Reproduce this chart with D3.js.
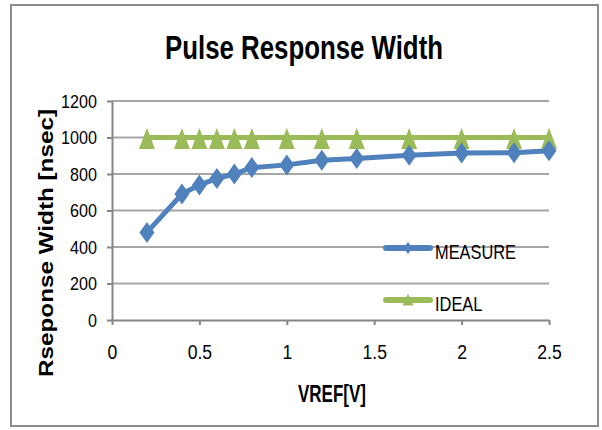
<!DOCTYPE html>
<html>
<head>
<meta charset="utf-8">
<script src="https://cdn.jsdelivr.net/npm/d3@7"></script>
<style>
  body { margin: 0; background: #fff; }
  svg { display: block; font-family: "Liberation Sans", Arial, sans-serif; }
</style>
</head>
<body>
<div id="chart"></div>
<script>
// data
const vref    = [0.2, 0.4, 0.5, 0.6, 0.7, 0.8, 1.0, 1.2, 1.4, 1.7, 2.0, 2.3, 2.5];
const measure = [480, 690, 740, 775, 800, 835, 850, 875, 885, 903, 915, 917, 928];
const ideal   = [1000, 1000, 1000, 1000, 1000, 1000, 1000, 1000, 1000, 1000, 1000, 1000, 1000];
const xTicks  = [0, 0.5, 1, 1.5, 2, 2.5];
const yTicks  = [0, 200, 400, 600, 800, 1000, 1200];
const seriesNames = ["MEASURE", "IDEAL"];

const width = 602, height = 430;
const margin = { top: 101, right: 53, bottom: 110, left: 112 };

const BLUE  = "#4f81bd";
const GREEN = "#9bbb59";
const GRID  = "#a6a6a6";
const AXIS  = "#868686";

// squeeze text horizontally so it looks like a narrow face
function condense(sel, factor) {
  sel.each(function () {
    const w = this.getComputedTextLength();
    d3.select(this)
      .attr("textLength", w * factor)
      .attr("lengthAdjust", "spacingAndGlyphs");
  });
}

const svg = d3.select("#chart").append("svg")
  .attr("width", width)
  .attr("height", height);

// outer frame
svg.append("rect")
  .attr("x", 11).attr("y", 5)
  .attr("width", 587).attr("height", 421)
  .attr("fill", "#fff")
  .attr("stroke", "#8c8c8c")
  .attr("stroke-width", 2);

const x = d3.scaleLinear([0, 2.5], [margin.left, width - margin.right]);
const y = d3.scaleLinear([0, 1200], [height - margin.bottom, margin.top]);

/* grid */
svg.append("g")
  .selectAll("line")
  .data(yTicks.filter(d => d > 0))
  .join("line")
    .attr("x1", x(0)).attr("x2", x(2.5))
    .attr("y1", d => y(d)).attr("y2", d => y(d))
    .attr("stroke", GRID)
    .attr("stroke-width", 2);

/* axes */
const yAxis = svg.append("g")
  .attr("transform", `translate(${margin.left},0)`)
  .call(d3.axisLeft(y).tickValues(yTicks).tickFormat(d3.format("d"))
    .tickSize(5).tickPadding(10).tickSizeOuter(0));

const xAxis = svg.append("g")
  .attr("transform", `translate(0,${y(0)})`)
  .call(d3.axisBottom(x).tickValues(xTicks).tickFormat(d3.format(""))
    .tickSize(5).tickPadding(20).tickSizeOuter(0));

[yAxis, xAxis].forEach(ax => {
  ax.attr("font-family", null);
  ax.select(".domain").attr("stroke", AXIS).attr("stroke-width", 2);
  ax.selectAll(".tick line").attr("stroke", AXIS).attr("stroke-width", 2);
});
yAxis.selectAll(".tick text").attr("fill", "#000").attr("font-size", 19).call(condense, 0.85);
xAxis.selectAll(".tick text").attr("fill", "#000").attr("font-size", 20).call(condense, 0.88);

/* lines */
const line = d3.line()
  .x((d, i) => x(vref[i]))
  .y(d => y(d));

svg.append("path")
  .datum(ideal)
  .attr("d", line)
  .attr("fill", "none")
  .attr("stroke", GREEN)
  .attr("stroke-width", 5)
  .attr("stroke-linejoin", "round");

svg.append("path")
  .datum(measure)
  .attr("d", line)
  .attr("fill", "none")
  .attr("stroke", BLUE)
  .attr("stroke-width", 5)
  .attr("stroke-linejoin", "round");

// markers
const tri  = (w, h) => `M0,${-h * 0.55}L${w / 2},${h * 0.45}L${-w / 2},${h * 0.45}Z`;
const diam = (w, h) => `M0,${-h / 2}L${w / 2},0L0,${h / 2}L${-w / 2},0Z`;

svg.append("g")
  .selectAll("path")
  .data(ideal)
  .join("path")
    .attr("transform", (d, i) => `translate(${x(vref[i])},${y(d) + 2})`)
    .attr("d", tri(16, 21))
    .attr("fill", GREEN);

svg.append("g")
  .selectAll("path")
  .data(measure)
  .join("path")
    .attr("transform", (d, i) => `translate(${x(vref[i])},${y(d)})`)
    .attr("d", diam(15, 21))
    .attr("fill", BLUE);

/* legend */
const legend = svg.append("g")
  .attr("transform", "translate(386,248)");

legend.selectAll("g")
  .data(seriesNames)
  .join("g")
    .attr("transform", (d, i) => `translate(0,${i * 52})`)
  .call(g => {
    g.append("line")
      .attr("x1", 0).attr("x2", 44)
      .attr("stroke", (d, i) => i ? GREEN : BLUE)
      .attr("stroke-width", 6)
      .attr("stroke-linecap", "round");
    g.append("path")
      .attr("transform", "translate(22,0)")
      .attr("d", (d, i) => i ? tri(11, 12) : diam(9, 12))
      .attr("fill", (d, i) => i ? GREEN : BLUE);
    g.append("text")
      .attr("x", 49)
      .attr("y", 11)
      .attr("font-size", 21)
      .text(d => d)
      .call(condense, 0.78);
  });

/* titles */
svg.append("text")
  .attr("x", 304)
  .attr("y", 59)
  .attr("text-anchor", "middle")
  .attr("font-size", 33)
  .attr("font-weight", "bold")
  .attr("textLength", 278)
  .attr("lengthAdjust", "spacingAndGlyphs")
  .text("Pulse Response Width");

svg.append("text")
  .attr("x", 332)
  .attr("y", 402)
  .attr("text-anchor", "middle")
  .attr("font-size", 23)
  .attr("font-weight", "bold")
  .attr("textLength", 68)
  .attr("lengthAdjust", "spacingAndGlyphs")
  .text("VREF[V]");

svg.append("text")
  .attr("transform", "rotate(-90)")
  .attr("x", -243)
  .attr("y", 53)
  .attr("text-anchor", "middle")
  .attr("font-size", 20)
  .attr("font-weight", "bold")
  .attr("textLength", 268)
  .attr("lengthAdjust", "spacingAndGlyphs")
  .text("Rseponse Width [nsec]");
</script>
</body>
</html>
